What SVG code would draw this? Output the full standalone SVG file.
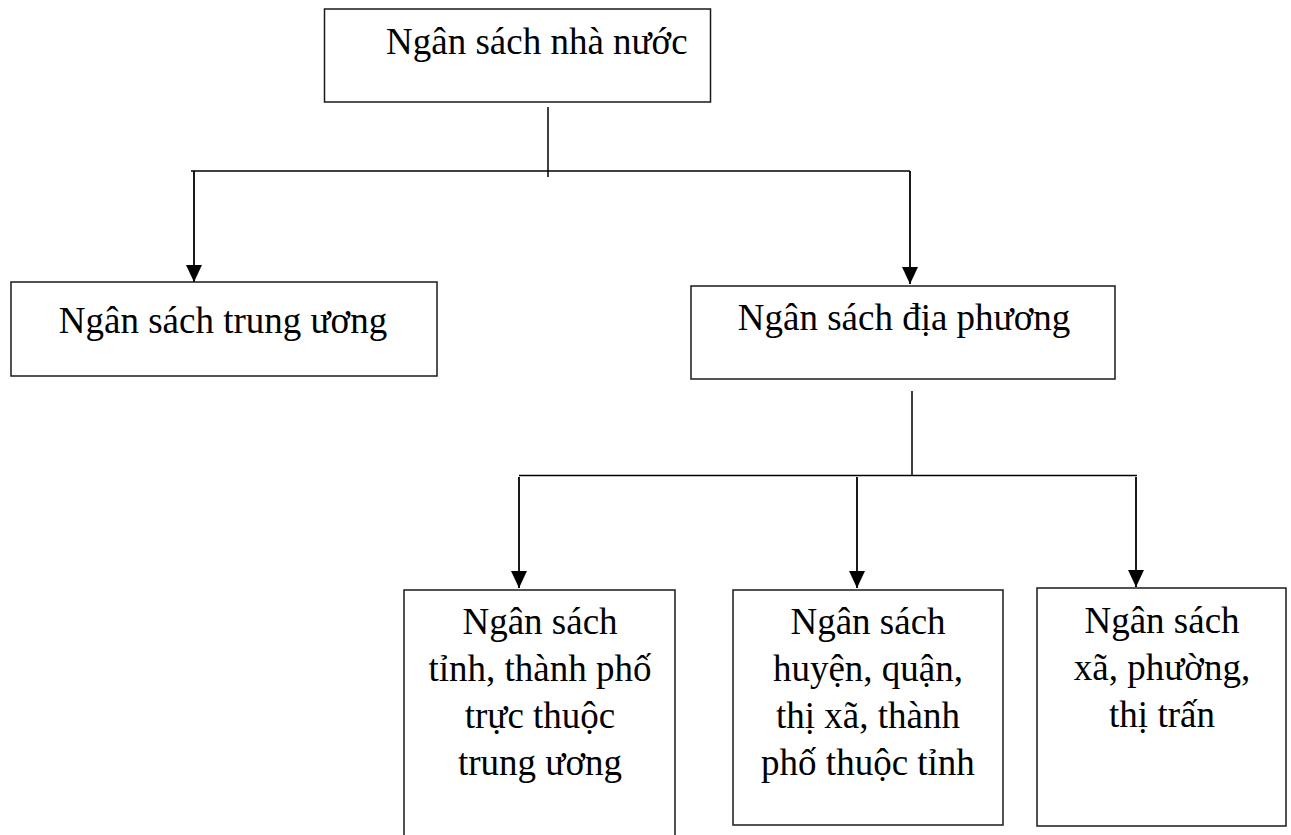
<svg xmlns="http://www.w3.org/2000/svg" width="1291" height="835" viewBox="0 0 1291 835">
<style>
.box{fill:#fff;stroke:#1a1a1a;stroke-width:1.5}
.ln{fill:none;stroke:#000;stroke-width:1.5}
.ar{fill:none;stroke:#000;stroke-width:1.8}
text{font-family:"Liberation Serif","Times New Roman",serif;font-size:37px;fill:#000}
.c{text-anchor:middle}
</style>
<defs>
<marker id="arr" markerUnits="userSpaceOnUse" markerWidth="18" markerHeight="18" viewBox="0 0 18 18" refX="17" refY="9" orient="auto">
<path d="M0,1 L17,9 L0,17 Z" fill="#000"/>
</marker>
</defs>
<rect width="1291" height="835" fill="#fff"/>
<g id="connectors">
<line class="ln" x1="548" y1="107" x2="548" y2="177"/>
<line class="ln" x1="191" y1="171" x2="910" y2="171"/>
<line class="ar" x1="194" y1="171" x2="194" y2="282" marker-end="url(#arr)"/>
<line class="ar" x1="910" y1="171" x2="910" y2="284" marker-end="url(#arr)"/>
<line class="ln" x1="912" y1="391" x2="912" y2="475.5"/>
<line class="ln" x1="519" y1="475.5" x2="1137" y2="475.5"/>
<line class="ar" x1="519" y1="477" x2="519" y2="588" marker-end="url(#arr)"/>
<line class="ar" x1="857" y1="477" x2="857" y2="588" marker-end="url(#arr)"/>
<line class="ar" x1="1136" y1="477" x2="1136" y2="587" marker-end="url(#arr)"/>
</g>
<g id="n-ngan-sach-nha-nuoc">
<rect class="box" x="324.5" y="9" width="386" height="93"/>
<text x="386" y="54">Ngân sách nhà nước</text>
</g>
<g id="n-trung-uong">
<rect class="box" x="11" y="282" width="426" height="94"/>
<text class="c" x="223" y="333">Ngân sách trung ương</text>
</g>
<g id="n-dia-phuong">
<rect class="box" x="691" y="286" width="424" height="93"/>
<text class="c" x="904" y="330">Ngân sách địa phương</text>
</g>
<g id="n-tinh">
<path class="box" d="M404,845 L404,590 L675,590 L675,845"/>
<text class="c" x="540" y="634">Ngân sách</text>
<text class="c" x="540" y="681">tỉnh, thành phố</text>
<text class="c" x="540" y="728">trực thuộc</text>
<text class="c" x="540" y="775">trung ương</text>
</g>
<g id="n-huyen">
<rect class="box" x="733" y="590" width="270" height="235"/>
<text class="c" x="868" y="634">Ngân sách</text>
<text class="c" x="868" y="681">huyện, quận,</text>
<text class="c" x="868" y="728">thị xã, thành</text>
<text class="c" x="868" y="775">phố thuộc tỉnh</text>
</g>
<g id="n-xa">
<rect class="box" x="1037" y="588" width="249" height="238"/>
<text class="c" x="1162" y="633">Ngân sách</text>
<text class="c" x="1162" y="680">xã, phường,</text>
<text class="c" x="1162" y="727">thị trấn</text>
</g>
</svg>
